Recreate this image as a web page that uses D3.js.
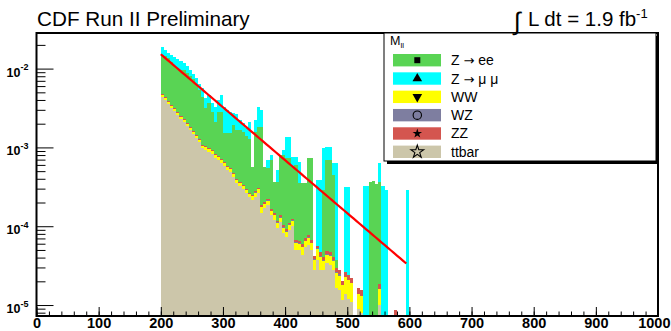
<!DOCTYPE html>
<html>
<head>
<meta charset="utf-8">
<script src="https://cdn.jsdelivr.net/npm/d3@7"></script>
<style>
  body { margin: 0; background: #fff; }
  svg { display: block; }
  text { font-family: "Liberation Sans", Arial, Helvetica, sans-serif; }
</style>
</head>
<body>
<svg id="chart" width="671" height="331"></svg>
<script>
// binning of the M_ll histogram (GeV)
const massLow = 200;
const binWidth = 5;

// per-bin contents (stack order bottom -> top)
const ttbar = [
  4.33e-3, 3.97e-3, 3.53e-3, 3.14e-3, 2.88e-3, 2.56e-3, 2.28e-3, 2.09e-3, 1.86e-3, 1.66e-3,
  1.47e-3, 1.31e-3, 1.17e-3, 9.8e-4, 9.25e-4, 8.73e-4, 8.23e-4, 7.33e-4, 6.91e-4, 6.33e-4,
  5.80e-4, 5.16e-4, 4.87e-4, 4.21e-4, 3.53e-4, 3.24e-4, 2.97e-4, 2.64e-4, 2.37e-4, 2.15e-4,
  2.37e-4, 2.64e-4, 1.47e-4, 1.71e-4, 1.86e-4, 1.39e-4, 1.20e-4, 9.5e-5, 1.13e-4, 8.2e-5,
  7.3e-5, 9.0e-5, 1.01e-4, 5.0e-5, 5.0e-5, 4.33e-5, 5.47e-5, 5.8e-5, 5.0e-5, 2.8e-5,
  3.74e-5, 2.8e-5, 2.8e-5, 3.43e-5, 3.23e-5, 2.8e-5, 1.66e-5, 1.56e-5, 1.17e-5, 1.4e-5,
  1.2e-5, 1.1e-5, 0, 9e-6, 8e-6, 0, 0, 0, 0, 0,
  1.0e-5, 0, 0, 0, 0, 0, 0, 0, 0, 0
];
const ww = [
  2.6e-4, 2.4e-4, 2.1e-4, 1.9e-4, 1.7e-4, 1.5e-4, 1.4e-4, 1.3e-4, 1.1e-4, 1.0e-4,
  9e-5, 8e-5, 7e-5, 6e-5, 7.4e-5, 7.0e-5, 6.6e-5, 5.9e-5, 5.5e-5, 5.1e-5,
  4.6e-5, 4.1e-5, 3.9e-5, 3.4e-5, 2.8e-5, 2.6e-5, 2.4e-5, 2.1e-5, 1.9e-5, 2.4e-5,
  2.8e-5, 3.0e-5, 2.6e-5, 2.0e-5, 2.4e-5, 1.6e-5, 1.8e-5, 1.5e-5, 1.6e-5, 1.4e-5,
  1.2e-5, 1.4e-5, 1.6e-5, 1.2e-5, 1.0e-5, 1.1e-5, 1.0e-5, 1.3e-5, 1.1e-5, 9e-6,
  1.4e-5, 1.3e-5, 8e-6, 9e-6, 1.0e-5, 8e-6, 9e-6, 8e-6, 6e-6, 9e-6,
  9e-6, 8e-6, 0, 5e-6, 5e-6, 0, 0, 0, 0, 0,
  6e-6, 0, 0, 0, 0, 0, 0, 0, 0, 0
];
const wz = [
  5e-5, 4.6e-5, 4.1e-5, 3.7e-5, 3.4e-5, 3.0e-5, 2.7e-5, 2.5e-5, 2.2e-5, 2.0e-5,
  1.8e-5, 1.6e-5, 1.4e-5, 1.2e-5, 1.1e-5, 1.0e-5, 1.0e-5, 9e-6, 8e-6, 8e-6,
  7e-6, 6e-6, 6e-6, 5e-6, 4.5e-6, 4e-6, 4e-6, 3.5e-6, 3e-6, 3e-6,
  3e-6, 3e-6, 2.5e-6, 2.5e-6, 2.5e-6, 2e-6, 2e-6, 2e-6, 2e-6, 1.5e-6,
  1.5e-6, 1.5e-6, 1.5e-6, 1e-6, 1e-6, 1e-6, 1e-6, 1e-6, 1e-6, 1e-6,
  1e-6, 1e-6, 1e-6, 1e-6, 1e-6, 1e-6, 1e-6, 1e-6, 0, 0,
  0, 0, 0, 0, 0, 0, 0, 0, 0, 0,
  0, 0, 0, 0, 0, 0, 0, 0, 0, 0
];
const zz = [
  1.3e-4, 1.2e-4, 1.1e-4, 9.5e-5, 8.7e-5, 7.8e-5, 7.0e-5, 6.4e-5, 5.7e-5, 5.1e-5,
  4.5e-5, 4.0e-5, 3.6e-5, 3.1e-5, 2.9e-5, 2.8e-5, 2.6e-5, 2.4e-5, 2.2e-5, 2.0e-5,
  1.9e-5, 1.7e-5, 1.6e-5, 1.4e-5, 1.2e-5, 1.1e-5, 1.0e-5, 9e-6, 8e-6, 8e-6,
  9e-6, 1.0e-5, 9e-6, 8e-6, 9e-6, 7e-6, 6e-6, 6e-6, 6.5e-6, 5.5e-6,
  5e-6, 5.5e-6, 6e-6, 4.5e-6, 4e-6, 4e-6, 4.5e-6, 5e-6, 4.5e-6, 3.5e-6,
  4.5e-6, 4.5e-6, 3.5e-6, 4e-6, 4e-6, 3.5e-6, 3e-6, 3e-6, 2.5e-6, 3e-6,
  3e-6, 3e-6, 0, 2.5e-6, 2.5e-6, 0, 0, 0, 0, 0,
  2.5e-6, 0, 0, 0, 0, 8.7e-6, 0, 0, 0, 0
];
const zee = [
  9.97e-3, 9.93e-3, 9.61e-3, 8.56e-3, 7.52e-3, 7.27e-3, 7.0e-3, 7.21e-3, 6.67e-3, 6.16e-3,
  5.70e-3, 4.70e-3, 4.02e-3, 3.25e-3, 2.10e-3, 2.66e-3, 1.88e-3, 1.27e-3, 2.02e-3, 2.09e-3,
  8.7e-4, 9.4e-4, 9.7e-4, 1.45e-3, 1.26e-3, 1.30e-3, 1.23e-3, 1.09e-3, 1.00e-3, 3.13e-4,
  1.28e-3, 1.50e-3, 1.63e-3, 3.6e-4, 3.26e-4, 5.27e-4, 2.18e-4, 2.46e-4, 6.62e-4, 6.96e-4,
  6.4e-4, 6.21e-4, 4.39e-4, 5.3e-4, 2.88e-4, 2.94e-4, 2.83e-4, 6.55e-4, 6.65e-4, 0,
  0, 0, 2.48e-4, 6.43e-4, 6.44e-4, 4.06e-4, 8e-6, 0, 0, 0,
  0, 0, 0, 0, 0, 0, 0, 3.64e-4, 3.75e-4, 3.43e-4,
  3.46e-4, 0, 0, 0, 0, 0, 0, 0, 0, 0
];
const zmumu = [
  3.86e-3, 2.73e-3, 2.12e-3, 2.72e-3, 3.21e-3, 3.02e-3, 2.85e-3, 2.15e-3, 1.97e-3, 1.53e-3,
  1.15e-3, 1.39e-3, 1.02e-3, 1.30e-3, 1.07e-3, 9.5e-4, 8.4e-4, 1.15e-3, 1.17e-3, 1.79e-3,
  1.72e-3, 1.45e-3, 1.28e-3, 8.0e-4, 9.8e-4, 5.6e-4, 4.7e-4, 3.6e-4, 8.2e-4, 0,
  6.6e-4, 1.43e-3, 1.16e-3, 0, 1.44e-4, 1.08e-4, 0, 1.52e-4, 0, 1.25e-4,
  6.2e-4, 6.2e-4, 1.91e-4, 1.57e-4, 2.98e-4, 0, 0, 0, 0, 0,
  3.29e-4, 3.40e-4, 6.92e-4, 3.19e-4, 3.19e-4, 1.87e-4, 5.95e-4, 0, 0, 2.88e-4,
  2.90e-4, 0, 0, 0, 0, 3.24e-4, 3.24e-4, 0, 0, 0,
  2.69e-4, 3.24e-4, 2.88e-4, 0, 0, 0, 0, 0, 0, 2.88e-4
];

// exponential fit drawn on top: exp(p0 + p1*m)
const fitParams = [-1.0906, -0.015476];
const fitRange = [200, 595];

const xTicksMajor = [0, 100, 200, 300, 400, 500, 600, 700, 800, 900, 1000];
const yDecades = [1e-5, 1e-4, 1e-3, 1e-2];

const legendEntries = [
  { key: 'zee',   pre: 'Z ', arrow: true, post: ' ee',          color: '#59d454', marker: 'square' },
  { key: 'zmumu', pre: 'Z ', arrow: true, post: ' \u03bc \u03bc', color: '#00ffff', marker: 'triangle' },
  { key: 'ww',    pre: 'WW',    arrow: false, post: '', color: '#ffff00', marker: 'triangleDown' },
  { key: 'wz',    pre: 'WZ',    arrow: false, post: '', color: '#7e7ea0', marker: 'circle' },
  { key: 'zz',    pre: 'ZZ',    arrow: false, post: '', color: '#d4554f', marker: 'star' },
  { key: 'ttbar', pre: 'ttbar', arrow: false, post: '', color: '#ccc6aa', marker: 'openStar' }
];

const stackOrder = ['ttbar', 'ww', 'wz', 'zz', 'zee', 'zmumu'];
const seriesData = { ttbar, ww, wz, zz, zee, zmumu };
const colorOf = Object.fromEntries(legendEntries.map(e => [e.key, e.color]));

// frame
const frame = { left: 36.5, right: 658, top: 33, bottom: 316 };
const yMin = 7.26e-6, yMax = 0.0283;

const svg = d3.select('#chart');
svg.append('rect').attr('width', 671).attr('height', 331).attr('fill', '#fff');

const x = d3.scaleLinear().domain([0, 1000]).range([frame.left, frame.right]);
const y = d3.scaleLog().domain([yMin, yMax]).range([frame.bottom, frame.top]).clamp(true);
const yc = v => y(Math.max(v, yMin));

// stacked histogram
const rows = ttbar.map((_, i) => {
  const r = { m: massLow + i * binWidth };
  stackOrder.forEach(k => { r[k] = seriesData[k][i]; });
  return r;
});
const layers = d3.stack().keys(stackOrder)(rows);

const plot = svg.append('g').attr('shape-rendering', 'crispEdges');
layers.forEach(layer => {
  plot.append('g')
    .attr('fill', colorOf[layer.key])
    .selectAll('rect')
    .data(layer.filter(d => d[1] > d[0] && d[1] > yMin))
    .join('rect')
    .attr('x', d => x(d.data.m))
    .attr('width', d => x(d.data.m + binWidth) - x(d.data.m))
    .attr('y', d => yc(d[1]))
    .attr('height', d => yc(d[0]) - yc(d[1]));
});

// fit line
const fit = m => Math.exp(fitParams[0] + fitParams[1] * m);
svg.append('path')
  .datum(d3.range(fitRange[0], fitRange[1] + 0.1, 5))
  .attr('fill', 'none')
  .attr('stroke', '#ff0000')
  .attr('stroke-width', 2.2)
  .attr('d', d3.line().x(m => x(m)).y(m => y(fit(m))));

// axes, ROOT style ticks pointing into the frame
const xMinor = d3.range(0, 1001, 20);
svg.append('g')
  .attr('transform', `translate(0,${frame.bottom})`)
  .call(d3.axisBottom(x).tickValues(xMinor).tickSize(-4.5).tickFormat(''))
  .call(g => g.select('.domain').remove());
svg.append('g')
  .attr('transform', `translate(0,${frame.bottom})`)
  .call(d3.axisBottom(x).tickValues(xTicksMajor).tickSize(-9).tickPadding(2).tickFormat(d3.format('d')))
  .call(g => g.select('.domain').remove())
  .call(g => g.selectAll('text')
    .attr('fill', '#000')
    .attr('font-size', 14.5)
    .attr('font-weight', 'bold')
    .attr('font-family', '"Liberation Sans", Arial, sans-serif'))
  // keep the last label inside the canvas
  .call(g => g.selectAll('.tick').filter(d => d === 1000).select('text')
    .attr('text-anchor', 'end').attr('x', 670 - x(1000)));

const yMinor = [];
[1e-6, 1e-5, 1e-4, 1e-3, 1e-2].forEach(dec => {
  for (let k = 2; k <= 9; k++) {
    const v = dec * k;
    if (v >= yMin && v <= yMax) yMinor.push(v);
  }
});
svg.append('g')
  .attr('transform', `translate(${frame.left},0)`)
  .call(d3.axisLeft(y).tickValues(yMinor).tickSize(-9).tickFormat(''))
  .call(g => g.select('.domain').remove());
const yAxis = svg.append('g')
  .attr('transform', `translate(${frame.left},0)`)
  .call(d3.axisLeft(y).tickValues(yDecades).tickSize(-17).tickFormat(''))
  .call(g => g.select('.domain').remove());
yAxis.selectAll('.tick').each(function (d) {
  const t = d3.select(this).append('text')
    .attr('x', -30).attr('y', 7.5)
    .attr('fill', '#000')
    .attr('text-anchor', 'start')
    .attr('font-weight', 'bold')
    .attr('font-size', 12.5);
  t.append('tspan').text('10');
  t.append('tspan').attr('dy', -6.5).attr('font-size', 9).text(String(Math.round(Math.log10(d))));
});

svg.append('rect')
  .attr('x', frame.left).attr('y', frame.top)
  .attr('width', frame.right - frame.left).attr('height', frame.bottom - frame.top)
  .attr('fill', 'none').attr('stroke', '#000').attr('stroke-width', 2);

// legend
const lg = { x: 384, y: 33, w: 272, h: 128 };
const legend = svg.append('g');
legend.append('rect')
  .attr('x', lg.x + 3).attr('y', lg.y + 3).attr('width', lg.w).attr('height', lg.h)
  .attr('fill', '#000');
legend.append('rect')
  .attr('x', lg.x).attr('y', lg.y).attr('width', lg.w).attr('height', lg.h)
  .attr('fill', '#fff').attr('stroke', '#000').attr('stroke-width', 1);
const head = legend.append('text').attr('x', lg.x + 6).attr('y', lg.y + 12).attr('font-size', 12.5).attr('fill', '#000');
head.append('tspan').text('M');
head.append('tspan').attr('dy', 3).attr('font-size', 8).text('ll');

const symbolFor = {
  square:       { type: d3.symbolSquare,   size: 36, fill: '#000', rot: 0 },
  triangle:     { type: d3.symbolTriangle, size: 40, fill: '#000', rot: 0 },
  triangleDown: { type: d3.symbolTriangle, size: 40, fill: '#000', rot: 180 },
  circle:       { type: d3.symbolCircle,   size: 55, fill: 'none', rot: 0 },
  star:         { type: d3.symbolStar,     size: 28, fill: '#000', rot: 0 },
  openStar:     { type: d3.symbolStar,     size: 50, fill: 'none', rot: 0 }
};
const rowY = d3.scalePoint().domain(legendEntries.map(e => e.key)).range([60.2, 151.8]);
legendEntries.forEach(e => {
  const cy = rowY(e.key);
  legend.append('rect')
    .attr('x', 393).attr('y', cy - 6.2).attr('width', 48).attr('height', 12.4)
    .attr('fill', e.color);
  const s = symbolFor[e.marker];
  legend.append('path')
    .attr('transform', `translate(417.3,${cy}) rotate(${s.rot})`)
    .attr('d', d3.symbol().type(s.type).size(s.size)())
    .attr('fill', s.fill)
    .attr('stroke', '#000')
    .attr('stroke-width', s.fill === 'none' ? 1.1 : 0);
  const t = legend.append('text')
    .attr('x', 451).attr('y', cy + 5)
    .attr('font-size', 14).attr('fill', '#000');
  t.append('tspan').text(e.pre);
  if (e.arrow) {
    t.append('tspan').attr('font-family', '"DejaVu Sans", sans-serif').attr('font-size', 13).text('\u2192');
    t.append('tspan').text(e.post);
  }
});

// titles
svg.append('text').attr('x', 37).attr('y', 26).attr('font-size', 20.7).attr('fill', '#000')
  .text('CDF Run II Preliminary');
svg.append('text').attr('x', 514).attr('y', 30).attr('font-size', 25)
  .attr('font-family', '"DejaVu Sans", sans-serif').attr('fill', '#000').text('\u222b');
const lumi = svg.append('text').attr('x', 528).attr('y', 26).attr('font-size', 20.5).attr('fill', '#000');
lumi.append('tspan').text('L dt = 1.9 fb');
lumi.append('tspan').attr('dy', -8).attr('font-size', 13).text('-1');
</script>
</body>
</html>
